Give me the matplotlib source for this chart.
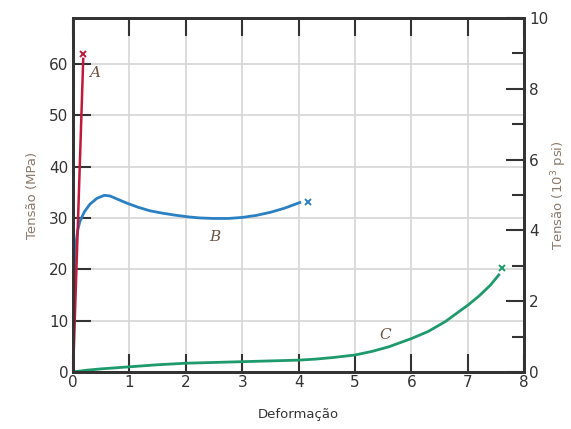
import numpy as np
import matplotlib.pyplot as plt

# Curvas tensao-deformacao (deformacao, tensao em MPa)
def_a = [0.0, 0.18]
ten_a = [0.0, 61.0]
rup_a = (0.18, 62.0)

def_b = [0.0, 0.02, 0.04, 0.08, 0.12, 0.2, 0.3, 0.42, 0.55, 0.65, 0.8, 0.95,
         1.15, 1.36, 1.6, 1.84, 2.05, 2.25, 2.5, 2.75, 3.0, 3.25, 3.5, 3.75, 4.02]
ten_b = [0.0, 18.0, 24.0, 27.5, 29.3, 31.2, 32.7, 33.8, 34.4, 34.3, 33.6, 32.9,
         32.1, 31.4, 30.9, 30.5, 30.2, 30.0, 29.9, 29.9, 30.1, 30.5, 31.1, 31.9, 33.0]
rup_b = (4.17, 33.2)

def_c = [0.0, 0.25, 0.5, 1.0, 1.5, 2.0, 2.5, 3.0, 3.5, 4.0, 4.3, 4.6, 5.0, 5.3,
         5.6, 6.0, 6.3, 6.6, 7.0, 7.2, 7.4, 7.55]
ten_c = [0.0, 0.35, 0.6, 1.0, 1.4, 1.7, 1.85, 2.0, 2.15, 2.3, 2.5, 2.8, 3.3, 4.0,
         4.9, 6.5, 7.9, 9.8, 13.0, 14.8, 16.9, 18.9]
rup_c = (7.6, 20.2)

col_a = '#c2183a'
col_b = '#2b80c3'
col_c = '#1f9a6c'
cinza = '#333333'
rotulo = '#8c7a6b'

fig = plt.figure(figsize=(5.71, 4.29), dpi=100)
ax = fig.add_axes([0.128, 0.133, 0.790, 0.825])

ax.set_xlim(0, 8)
ax.set_ylim(0, 68.95)
ax.set_xticks(range(0, 9))
ax.set_yticks(range(0, 70, 10))
ax.grid(True, color='#d6d6d6', linewidth=1.2)
ax.set_axisbelow(True)

ax.plot(def_b, ten_b, color=col_b, lw=2)
ax.plot(*rup_b, marker='x', color=col_b, ms=4, mew=1.4)
ax.plot(def_c, ten_c, color=col_c, lw=2)
ax.plot(*rup_c, marker='x', color=col_c, ms=4, mew=1.4)
ax.plot(def_a, ten_a, color=col_a, lw=1.8, zorder=3)
ax.plot(*rup_a, marker='x', color=col_a, ms=4, mew=1.4, zorder=3)

ax.text(0.28, 57.5, 'A', fontsize=11, style='italic', family='DejaVu Serif', color='#6b5646')
ax.text(2.42, 25.5, 'B', fontsize=11, style='italic', family='DejaVu Serif', color='#6b5646')
ax.text(5.43, 6.5, 'C', fontsize=11, style='italic', family='DejaVu Serif', color='#6b5646')

ax.tick_params(axis='both', direction='in', length=13, width=1.5, color=cinza,
               labelsize=11, labelcolor=cinza, top=True)
ax.tick_params(axis='x', pad=2)
for s in ax.spines.values():
    s.set_color(cinza)
    s.set_linewidth(2)

ax.set_xlabel('Deformação', fontsize=9.5, color=cinza, labelpad=13)
ax.set_ylabel('Tensão (MPa)', fontsize=9.5, color=rotulo, labelpad=7)

ax2 = ax.twinx()
ax2.set_ylim(0, 10)
ax2.set_yticks(range(0, 11, 2))
ax2.set_yticks(range(0, 11, 1), minor=True)
ax2.tick_params(axis='y', which='major', direction='in', length=13, width=1.5,
                color=cinza, labelsize=11, labelcolor=cinza)
ax2.tick_params(axis='y', which='minor', direction='in', length=8.5, width=1.5, color=cinza)
for s in ax2.spines.values():
    s.set_color(cinza)
    s.set_linewidth(2)
ax2.set_ylabel('Tensão (10$^3$ psi)', fontsize=9.5, color=rotulo, labelpad=1)

fig.savefig('out.png', dpi=100)
